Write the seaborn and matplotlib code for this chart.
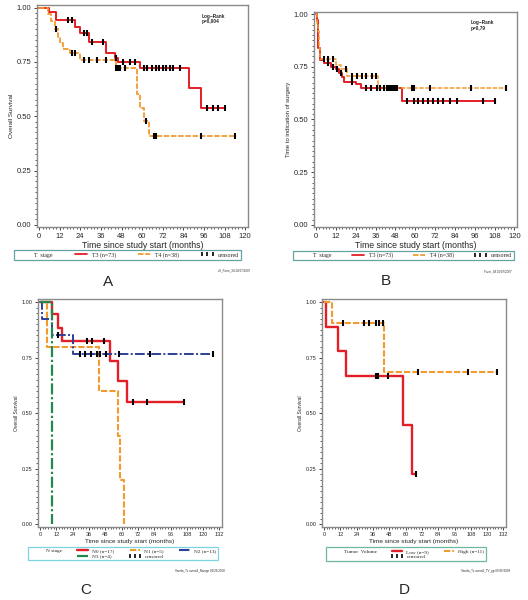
import numpy as np
import matplotlib
matplotlib.use("Agg")
import matplotlib.pyplot as plt
from matplotlib.lines import Line2D
from matplotlib.ticker import MultipleLocator
import seaborn as sns

# ---- datos (Kaplan-Meier) ----
# Panel A: T stage, overall survival
a_t3_time = [0, 6, 10, 21, 24, 29, 39, 44, 46, 59, 87, 94]
a_t3_surv = [1.0, 0.98, 0.945, 0.91, 0.885, 0.84, 0.79, 0.77, 0.75, 0.72, 0.63, 0.54]
a_t3_end = 108
a_t3_cens = [17, 19, 26, 28, 31, 37, 45, 49, 53, 56, 61, 63, 66, 68, 70, 72, 74, 76, 78, 82, 98, 101, 104, 108]

a_t4_time = [0, 5, 7, 9, 11, 12, 14, 18, 24, 45, 57, 59, 61, 64]
a_t4_surv = [1.0, 0.97, 0.94, 0.90, 0.865, 0.835, 0.81, 0.79, 0.76, 0.72, 0.60, 0.54, 0.48, 0.41]
a_t4_end = 114
a_t4_cens = [10, 19, 21, 26, 29, 34, 39, 45, 46, 47, 50, 62, 67, 68, 94, 114]

# Panel B: T stage, time to indication of surgery
b_t3_time = [0, 0.5, 1, 1.5, 2.5, 5, 9, 12, 14, 16, 17, 24, 27, 52]
b_t3_surv = [1.0, 0.97, 0.95, 0.84, 0.78, 0.77, 0.75, 0.74, 0.72, 0.70, 0.68, 0.67, 0.65, 0.59]
b_t3_end = 108
b_t3_cens = [7, 10, 13, 15, 22, 30, 33, 37, 39, 43, 45, 47, 49, 55, 59, 62, 65, 68, 71, 74, 77, 81, 85, 101, 108]

b_t4_time = [0, 0.5, 1, 2, 2.5, 12, 15, 19, 37.5]
b_t4_surv = [1.0, 0.96, 0.92, 0.84, 0.785, 0.76, 0.74, 0.705, 0.65]
b_t4_end = 115
b_t4_cens = [5, 7, 10, 18, 22, 25, 28, 30, 34, 36, 39, 41, 44, 46, 48, 58, 59, 69, 94, 115]

# Panel C: N stage
c_n0_time = [0, 8.6, 13.4, 15.9, 51.3, 57.5, 64.3]
c_n0_surv = [1.0, 0.945, 0.885, 0.825, 0.735, 0.645, 0.55]
c_n0_end = 106
c_n0_cens = [34.7, 38.6, 46.9, 68.5, 79, 106]

c_n1_time = [0, 4.9, 43.3, 57.5, 59, 62]
c_n1_surv = [1.0, 0.80, 0.60, 0.40, 0.20, 0.0]
c_n1_end = 62
c_n1_cens = []

c_n2_time = [0, 1.2, 8.6, 24]
c_n2_surv = [1.0, 0.925, 0.85, 0.765]
c_n2_end = 127
c_n2_cens = [13.4, 29.3, 33, 37.9, 41.6, 44, 48.4, 58.2, 80.7, 127]

c_n3_time = [0, 8.6]
c_n3_surv = [1.0, 0.0]
c_n3_end = 8.6
c_n3_cens = []

# Panel D: tumor volume
d_low_time = [0, 1.2, 10.3, 15.9, 58, 64.8]
d_low_surv = [1.0, 0.89, 0.78, 0.666, 0.448, 0.225]
d_low_end = 67.7
d_low_cens = [38.6, 39.6, 47, 67.7]

d_high_time = [0, 5.6, 44.5]
d_high_surv = [1.0, 0.907, 0.685]
d_high_end = 127
d_high_cens = [14.2, 29.3, 32.8, 38.4, 40.8, 43.5, 69, 106, 127]

RED = "#e41e26"
ORANGE = "#f29a2e"
BLUE = "#2e3f99"
GREEN = "#1f8a4c"

sns.set_style("ticks")
plt.rcParams["font.family"] = ["Liberation Sans", "DejaVu Sans"]

fig = plt.figure(figsize=(5.28, 6.0), dpi=100)


def km(ax, times, surv, end, cens, color, dashes, lw):
    x = list(times) + [end]
    y = list(surv) + [surv[-1]]
    line = sns.lineplot(x=x, y=y, drawstyle="steps-post", color=color, lw=lw,
                        ax=ax, estimator=None, sort=False)
    if dashes is not None:
        line.lines[-1].set_dashes(dashes)
    if len(cens):
        idx = np.searchsorted(times, cens, side="right") - 1
        cy = np.array(surv)[idx]
        sns.scatterplot(x=cens, y=cy, marker="|", color="black", s=13,
                        linewidth=1.5, ax=ax, zorder=5)


def setup(ax, xmax, step, tick_fs, ylabel, ylab_fs, xlab_fs):
    ax.set_xlim(-1.2, xmax + 1.6)
    ax.set_ylim(-0.01, 1.012)
    ax.set_xticks(np.arange(0, xmax + 1, step))
    ax.set_yticks([0, 0.25, 0.5, 0.75, 1.0])
    ax.set_yticklabels(["0.00", "0.25", "0.50", "0.75", "1.00"])
    ax.xaxis.set_minor_locator(MultipleLocator(2))
    ax.yaxis.set_minor_locator(MultipleLocator(0.025))
    ax.tick_params(labelsize=tick_fs, length=2.5, width=0.6, pad=1.5)
    ax.tick_params(which="minor", length=1.5, width=0.5)
    for s in ax.spines.values():
        s.set_visible(True)
        s.set_color("#8a8a8a")
        s.set_linewidth(1.0)
    ax.set_ylabel(ylabel, fontsize=ylab_fs, labelpad=2)
    ax.set_xlabel("Time since study start (months)", fontsize=xlab_fs, labelpad=1)


censor_handle = Line2D([], [], marker="|", color="black", linestyle="none",
                       markersize=3.5, markeredgewidth=1.2)
blank = Line2D([], [], color="none")

# ---- A ----
axA = fig.add_axes([0.0701, 0.6217, 0.3996, 0.37])
km(axA, a_t3_time, a_t3_surv, a_t3_end, a_t3_cens, RED, None, 1.4)
km(axA, a_t4_time, a_t4_surv, a_t4_end, a_t4_cens, ORANGE, (3, 1), 1.3)
setup(axA, 120, 12, 5.5, "Overall Survival", 4.6, 6.3)
axA.text(0.78, 0.96, "Log\u2212Rank\np=0,004", transform=axA.transAxes,
         fontsize=3.4, fontweight="bold", va="top", linespacing=1.1)

# ---- B ----
axB = fig.add_axes([0.5947, 0.6217, 0.3845, 0.359])
km(axB, b_t3_time, b_t3_surv, b_t3_end, b_t3_cens, RED, None, 1.4)
km(axB, b_t4_time, b_t4_surv, b_t4_end, b_t4_cens, ORANGE, (3, 1), 1.1)
setup(axB, 120, 12, 5.5, "Time to indication of surgery", 4.3, 6.3)
axB.text(0.77, 0.96, "Log\u2212Rank\np=0,79", transform=axB.transAxes,
         fontsize=3.4, fontweight="bold", va="top", linespacing=1.1)

# ---- C ----
axC = fig.add_axes([0.0725, 0.1222, 0.3473, 0.3787])
km(axC, c_n1_time, c_n1_surv, c_n1_end, c_n1_cens, ORANGE, (3, 1), 1.5)
km(axC, c_n0_time, c_n0_surv, c_n0_end, c_n0_cens, RED, None, 1.7)
km(axC, c_n2_time, c_n2_surv, c_n2_end, c_n2_cens, BLUE, (5, 1.2, 1, 1.2), 1.4)
km(axC, c_n3_time, c_n3_surv, c_n3_end, c_n3_cens, GREEN, (5, 1.2, 1, 1.2), 1.6)
setup(axC, 132, 12, 4.0, "Overall Survival", 3.6, 4.6)

# ---- D ----
axD = fig.add_axes([0.6104, 0.1222, 0.3473, 0.3787])
km(axD, d_low_time, d_low_surv, d_low_end, d_low_cens, RED, None, 1.7)
km(axD, d_high_time, d_high_surv, d_high_end, d_high_cens, ORANGE, (3, 1), 1.5)
setup(axD, 132, 12, 4.0, "Overall Survival", 3.6, 4.6)

# ---- leyendas ----
serif = {"family": "Liberation Serif", "size": 4.2}
lgA = fig.legend([blank, Line2D([], [], color=RED, lw=1.3),
                  Line2D([], [], color=ORANGE, lw=1.3, dashes=(3, 1)), censor_handle],
                 ["T  stage", "T3 (n=73)", "T4 (n=38)", "censored"],
                 bbox_to_anchor=(14 / 528, 1 - 261 / 600, 227 / 528, 12 / 600),
                 loc="center", mode="expand", ncol=4, prop=serif, numpoints=3,
                 frameon=True, fancybox=False, edgecolor="#3c8c8c",
                 handlelength=2.6, handletextpad=0.5, borderpad=0.35, borderaxespad=0)
lgA.get_frame().set_linewidth(0.9)

lgB = fig.legend([blank, Line2D([], [], color=RED, lw=1.3),
                  Line2D([], [], color=ORANGE, lw=1.3, dashes=(3, 1)), censor_handle],
                 ["T  stage", "T3 (n=73)", "T4 (n=38)", "censored"],
                 bbox_to_anchor=(293 / 528, 1 - 261 / 600, 221 / 528, 11 / 600),
                 loc="center", mode="expand", ncol=4, prop=serif, numpoints=3,
                 frameon=True, fancybox=False, edgecolor="#3c8c8c",
                 handlelength=2.6, handletextpad=0.5, borderpad=0.35, borderaxespad=0)
lgB.get_frame().set_linewidth(0.9)

serif_s = {"family": "Liberation Serif", "size": 3.8}
lgC = fig.legend([blank, blank,
                  Line2D([], [], color=RED, lw=1.7),
                  Line2D([], [], color=GREEN, lw=1.6, dashes=(5, 1.2, 1, 1.2)),
                  Line2D([], [], color=ORANGE, lw=1.5, dashes=(3, 1)), censor_handle,
                  Line2D([], [], color=BLUE, lw=1.5, dashes=(5, 1.2, 1, 1.2)), blank],
                 ["N stage", "", "N0 (n=17)", "N3 (n=4)", "N1 (n=5)", "censored",
                  "N2 (n=13)", ""],
                 bbox_to_anchor=(28 / 528, 1 - 562 / 600, 190 / 528, 17 / 600),
                 loc="center", mode="expand", ncol=4, prop=serif_s, numpoints=3,
                 frameon=True, fancybox=False, edgecolor="#5cc8d8",
                 handlelength=2.6, handletextpad=0.5, borderpad=0.3,
                 labelspacing=0.15, borderaxespad=0)
lgC.get_frame().set_linewidth(0.9)

lgD = fig.legend([blank, blank,
                  Line2D([], [], color=RED, lw=1.7), censor_handle,
                  Line2D([], [], color=ORANGE, lw=1.5, dashes=(3, 1)), blank],
                 ["Tumor  Volume", "", "Low (n=9)", "censored", "High (n=11)", ""],
                 bbox_to_anchor=(326 / 528, 1 - 562 / 600, 160 / 528, 16 / 600),
                 loc="center", mode="expand", ncol=3, prop=serif_s, numpoints=3,
                 frameon=True, fancybox=False, edgecolor="#4aa58a",
                 handlelength=2.6, handletextpad=0.5, borderpad=0.3,
                 labelspacing=0.15, borderaxespad=0)
lgD.get_frame().set_linewidth(0.9)

# ---- notas y letras ----
fig.text(250 / 528, 1 - 270 / 600, "vll_Form_34 28/07/2007", fontsize=2.2,
         ha="right", va="center", color="#333333")
fig.text(512 / 528, 1 - 271 / 600, "Form_34 10/07/2007", fontsize=2.2,
         ha="right", va="center", color="#333333", style="italic")
fig.text(225 / 528, 1 - 571 / 600, "Vanda_Tx overall_Nstage 09/26/2008", fontsize=2.2,
         ha="right", va="center", color="#333333")
fig.text(510 / 528, 1 - 571 / 600, "Vanda_Tx overall_TV_gp 09/26/2008", fontsize=2.2,
         ha="right", va="center", color="#333333")

for lab, x, y in [("A", 108, 282), ("B", 386, 281), ("C", 86, 590), ("D", 404, 590)]:
    fig.text(x / 528, 1 - y / 600, lab, fontsize=11, ha="center", va="center")

fig.savefig("out.png", dpi=100)
